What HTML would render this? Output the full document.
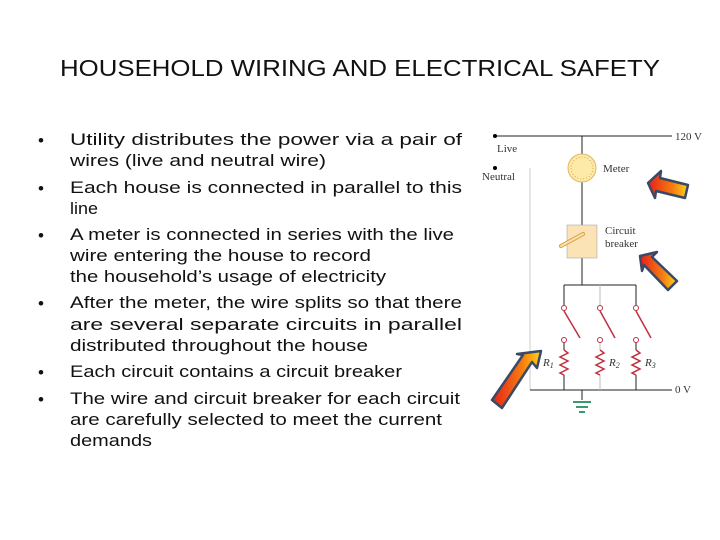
<!DOCTYPE html>
<html><head><meta charset="utf-8"><style>
html,body{margin:0;padding:0;background:#fff;}
svg{display:block;}
</style></head><body>
<svg width="720" height="540" viewBox="0 0 720 540" xmlns="http://www.w3.org/2000/svg">
<defs>
<linearGradient id="g" x1="0" y1="0" x2="1" y2="0">
<stop offset="0" stop-color="#e8201a"/><stop offset="0.6" stop-color="#f57a10"/><stop offset="1" stop-color="#ffd21a"/>
</linearGradient>
</defs>
<g font-family="Liberation Sans, sans-serif" fill="#111">
<text x="60" y="76" font-size="23" textLength="600" lengthAdjust="spacingAndGlyphs">HOUSEHOLD WIRING AND ELECTRICAL SAFETY</text>
<g font-size="17">
<text x="38" y="146">•</text><text x="38" y="194">•</text><text x="38" y="241">•</text><text x="38" y="309">•</text><text x="38" y="378">•</text><text x="38" y="405">•</text>
<text x="70" y="145" textLength="392" lengthAdjust="spacingAndGlyphs">Utility distributes the power via a pair of</text>
<text x="70" y="166" textLength="256" lengthAdjust="spacingAndGlyphs">wires (live and neutral wire)</text>
<text x="70" y="193" textLength="392" lengthAdjust="spacingAndGlyphs">Each house is connected in parallel to this</text>
<text x="70" y="214" textLength="28" lengthAdjust="spacingAndGlyphs">line</text>
<text x="70" y="240" textLength="384" lengthAdjust="spacingAndGlyphs">A meter is connected in series with the live</text>
<text x="70" y="261" textLength="301" lengthAdjust="spacingAndGlyphs">wire entering the house to record</text>
<text x="70" y="282" textLength="316" lengthAdjust="spacingAndGlyphs">the household’s usage of electricity</text>
<text x="70" y="308" textLength="392" lengthAdjust="spacingAndGlyphs">After the meter, the wire splits so that there</text>
<text x="70" y="330" textLength="392" lengthAdjust="spacingAndGlyphs">are several separate circuits in parallel</text>
<text x="70" y="351" textLength="298" lengthAdjust="spacingAndGlyphs">distributed throughout the house</text>
<text x="70" y="377" textLength="332" lengthAdjust="spacingAndGlyphs">Each circuit contains a circuit breaker</text>
<text x="70" y="404" textLength="390" lengthAdjust="spacingAndGlyphs">The wire and circuit breaker for each circuit</text>
<text x="70" y="425" textLength="372" lengthAdjust="spacingAndGlyphs">are carefully selected to meet the current</text>
<text x="70" y="446" textLength="82" lengthAdjust="spacingAndGlyphs">demands</text>
</g>
</g>
<g stroke="#222" stroke-width="1" fill="none">
<line x1="495" y1="136" x2="672" y2="136"/>
<line x1="582" y1="136" x2="582" y2="154"/>
<line x1="582" y1="182" x2="582" y2="225"/>
<line x1="582" y1="258" x2="582" y2="285"/>
<line x1="564" y1="285" x2="636" y2="285"/>
<line x1="564" y1="285" x2="564" y2="306"/>
<line x1="636" y1="285" x2="636" y2="306"/>
<line x1="600" y1="285" x2="600" y2="306" stroke="#bbb"/>
<line x1="530" y1="168" x2="530" y2="390" stroke="#ccc"/>
<line x1="530" y1="390" x2="672" y2="390"/>
<line x1="564" y1="342" x2="564" y2="350"/><line x1="564" y1="375" x2="564" y2="390"/>
<line x1="600" y1="342" x2="600" y2="350" stroke="#bbb"/><line x1="600" y1="375" x2="600" y2="390" stroke="#bbb"/>
<line x1="636" y1="342" x2="636" y2="350"/><line x1="636" y1="375" x2="636" y2="390"/>
<line x1="582" y1="390" x2="582" y2="400"/>
</g>
<circle cx="495" cy="136" r="2" fill="#000"/><circle cx="495" cy="168" r="2" fill="#000"/>
<circle cx="582" cy="168" r="14" fill="#fde9a8" stroke="#e0b860"/>
<circle cx="582" cy="168" r="11" fill="none" stroke="#e0a850" stroke-dasharray="1 2"/>
<rect x="567" y="225" width="30" height="33" fill="#fbe3b5" stroke="#999" stroke-width="0.5"/>
<line x1="561" y1="246" x2="583" y2="234" stroke="#d8a040" stroke-width="4" stroke-linecap="round"/>
<line x1="561" y1="246" x2="583" y2="234" stroke="#fbe3b5" stroke-width="2" stroke-linecap="round"/>
<g stroke="#c03040" stroke-width="1.5" fill="#fff">
<line x1="564" y1="311" x2="580" y2="338"/><line x1="600" y1="311" x2="615" y2="338"/><line x1="636" y1="311" x2="651" y2="338"/>
<circle cx="564" cy="308" r="2.5" stroke-width="1"/><circle cx="600" cy="308" r="2.5" stroke-width="1"/><circle cx="636" cy="308" r="2.5" stroke-width="1"/>
<circle cx="564" cy="340" r="2.5" stroke-width="1"/><circle cx="600" cy="340" r="2.5" stroke-width="1"/><circle cx="636" cy="340" r="2.5" stroke-width="1"/>
<polyline fill="none" points="564,350 568,353 560,357 568,361 560,365 568,369 560,373 564,375"/>
<polyline fill="none" points="600,350 604,353 596,357 604,361 596,365 604,369 596,373 600,375"/>
<polyline fill="none" points="636,350 640,353 632,357 640,361 632,365 640,369 632,373 636,375"/>
</g>
<g stroke="#3a9a6a" stroke-width="2"><line x1="573" y1="402" x2="591" y2="402"/><line x1="576" y1="407" x2="588" y2="407"/><line x1="579" y1="412" x2="585" y2="412"/></g>
<g font-family="Liberation Serif, serif" font-size="11" fill="#333">
<text x="675" y="140">120 V</text><text x="497" y="152">Live</text><text x="482" y="180">Neutral</text>
<text x="603" y="172">Meter</text><text x="605" y="234">Circuit</text><text x="605" y="247">breaker</text>
<text x="675" y="393">0 V</text>
<text x="543" y="366" font-style="italic">R<tspan font-size="8" dy="2">1</tspan></text>
<text x="609" y="366" font-style="italic">R<tspan font-size="8" dy="2">2</tspan></text>
<text x="645" y="366" font-style="italic">R<tspan font-size="8" dy="2">3</tspan></text>
</g>
<g fill="url(#g)" stroke="#3a4a66" stroke-width="2.5" stroke-linejoin="round">
<polygon points="648,183 661,171 660,178 688,185 685,198 656,191 655,198"/>
<polygon points="640,256 657,252 652,257 677,281 668,290 644,265 642,271"/>
<polygon points="541,351 537,368 532,362 502,408 492,400 523,355 517,354"/>
</g>
</svg>
</body></html>
